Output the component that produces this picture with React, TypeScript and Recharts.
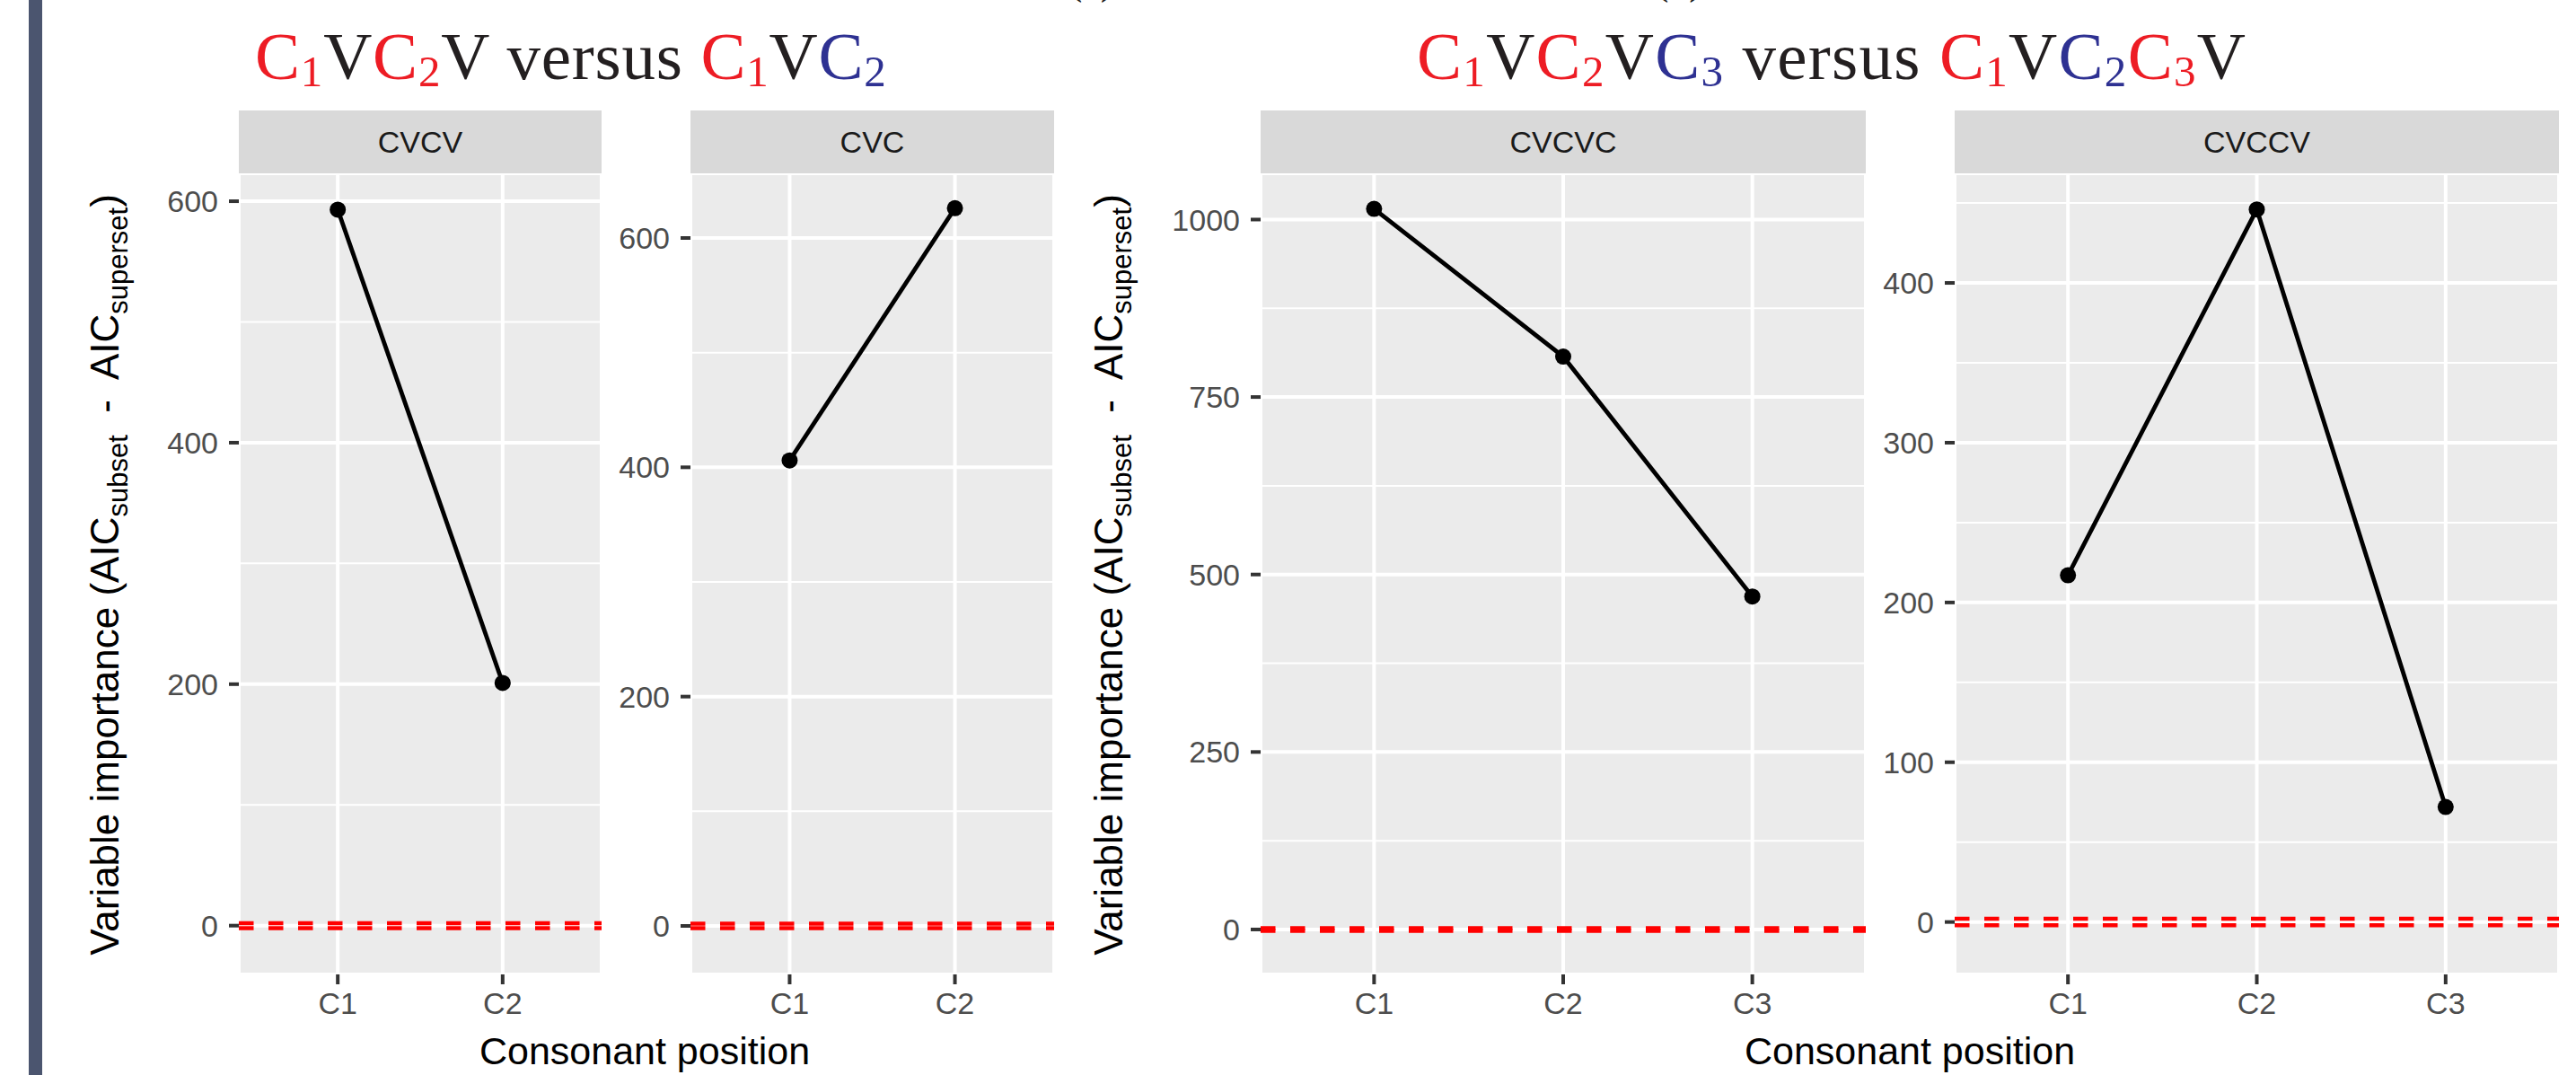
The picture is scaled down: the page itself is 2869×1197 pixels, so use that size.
import React from 'react';
import { LineChart, Line, XAxis, YAxis, CartesianGrid, ReferenceLine } from 'recharts';

const cvcvPositions = ['C1', 'C2'];
const cvcvImportance = [593, 201];
const cvcPositions = ['C1', 'C2'];
const cvcImportance = [406, 626];
const cvcvcPositions = ['C1', 'C2', 'C3'];
const cvcvcImportance = [1015, 807, 469];
const cvccvPositions = ['C1', 'C2', 'C3'];
const cvccvImportance = [217, 446, 72];

// y axis breaks
const cvcvTicks = [0, 200, 400, 600];
const cvcTicks = [0, 200, 400, 600];
const cvcvcTicks = [0, 250, 500, 750, 1000];
const cvccvTicks = [0, 100, 200, 300, 400];
const cvcvMinor = [100, 300, 500];
const cvcMinor = [100, 300, 500];
const cvcvcMinor = [125, 375, 625, 875];
const cvccvMinor = [50, 150, 250, 350, 450];

// +/- 2 AIC threshold
const thresholds = [2, -2];

const FONT = '"Liberation Sans", Arial, Helvetica, sans-serif';
const SERIF = '"Liberation Serif", "Times New Roman", serif';
const RED = '#ED1C24';
const BLUE = '#2E3192';
const INK = '#231F20';

const STRIP_TOP = 123;
const STRIP_H = 70;
const PLOT_TOP = 193;
const PLOT_H = 892;
const X_AXIS_H = 70;

type Part = { t: string; c: string; sub?: boolean };

const title1: Part[] = [
  { t: 'C', c: RED }, { t: '1', c: RED, sub: true }, { t: 'V', c: INK },
  { t: 'C', c: RED }, { t: '2', c: RED, sub: true }, { t: 'V', c: INK },
  { t: ' versus ', c: INK },
  { t: 'C', c: RED }, { t: '1', c: RED, sub: true }, { t: 'V', c: INK },
  { t: 'C', c: BLUE }, { t: '2', c: BLUE, sub: true },
];

const title2: Part[] = [
  { t: 'C', c: RED }, { t: '1', c: RED, sub: true }, { t: 'V', c: INK },
  { t: 'C', c: RED }, { t: '2', c: RED, sub: true }, { t: 'V', c: INK },
  { t: 'C', c: BLUE }, { t: '3', c: BLUE, sub: true },
  { t: ' versus ', c: INK },
  { t: 'C', c: RED }, { t: '1', c: RED, sub: true }, { t: 'V', c: INK },
  { t: 'C', c: BLUE }, { t: '2', c: BLUE, sub: true },
  { t: 'C', c: RED }, { t: '3', c: RED, sub: true }, { t: 'V', c: INK },
];

const Title = ({ parts, x, spacing }: { parts: Part[]; x: number; spacing: number }) => {
  let shifted = false;
  return (
    <text x={x} y={88} fontFamily={SERIF} fontSize={75} letterSpacing={spacing} style={{ whiteSpace: 'pre' }}>
      {parts.map((p, i) => {
        let dy = 0;
        if (p.sub && !shifted) { dy = 8; shifted = true; }
        else if (!p.sub && shifted) { dy = -8; shifted = false; }
        return (
          <tspan key={i} fill={p.c} dy={dy || undefined} fontSize={p.sub ? 49 : undefined}>{p.t}</tspan>
        );
      })}
    </text>
  );
};

const YTitle = ({ x }: { x: number }) => {
  const y = 640;
  return (
    <text x={x} y={y} transform={`rotate(-90 ${x} ${y})`} textAnchor="middle" fontFamily={FONT} fontSize={44} fill="#000" style={{ whiteSpace: 'pre' }}>
      Variable importance (AIC
      <tspan fontSize={31} dy={10}>subset</tspan>
      <tspan dy={-10}>{'  -  AIC'}</tspan>
      <tspan fontSize={31} dy={10}>superset</tspan>
      <tspan dy={-10}>)</tspan>
    </text>
  );
};

type PanelProps = {
  name: string;
  positions: string[];
  values: number[];
  ticks: number[];
  minor: number[];
  domain: [number, number];
  left: number;
  width: number;
  axisW: number;
};

const Panel = ({ name, positions, values, ticks, minor, domain, left, width, axisW }: PanelProps) => {
  const data = positions.map((p, i) => ({ x: i + 1, pos: p, value: values[i] }));
  const xTicks = positions.map((_, i) => i + 1);
  const minorGen = ({ yAxis, offset }: any) =>
    minor.map((v) =>
      yAxis && typeof yAxis.scale === 'function'
        ? yAxis.scale(v)
        : offset.top + ((domain[1] - v) / (domain[1] - domain[0])) * offset.height
    );
  return (
    <>
      <div
        style={{
          position: 'absolute', left, top: STRIP_TOP, width, height: STRIP_H,
          background: '#D9D9D9', color: '#1A1A1A', fontFamily: FONT, fontSize: 34,
          display: 'flex', alignItems: 'center', justifyContent: 'center',
        }}
      >
        {name}
      </div>
      <div style={{ position: 'absolute', left: left - axisW, top: PLOT_TOP }}>
        <LineChart width={axisW + width} height={PLOT_H + X_AXIS_H} data={data} margin={{ top: 0, right: 0, bottom: 0, left: 0 }}>
          <CartesianGrid fill="#EBEBEB" stroke="#FFFFFF" strokeWidth={2} vertical={false} horizontalCoordinatesGenerator={minorGen} />
          <CartesianGrid stroke="#FFFFFF" strokeWidth={4} />
          <XAxis
            type="number"
            dataKey="x"
            domain={[0.4, positions.length + 0.6]}
            ticks={xTicks}
            interval={0}
            allowDataOverflow
            tickFormatter={(v: number) => positions[v - 1]}
            height={X_AXIS_H}
            axisLine={false}
            tickSize={11}
            tickMargin={9}
            tickLine={{ stroke: '#333333', strokeWidth: 4 }}
            tick={{ fill: '#4D4D4D', fontSize: 34, fontFamily: FONT }}
          />
          <YAxis
            type="number"
            domain={domain}
            ticks={ticks}
            interval={0}
            allowDataOverflow
            width={axisW}
            axisLine={false}
            tickSize={11}
            tickMargin={12}
            tickLine={{ stroke: '#333333', strokeWidth: 4 }}
            tick={{ fill: '#4D4D4D', fontSize: 34, fontFamily: FONT }}
          />
          {thresholds.map((t) => (
            <ReferenceLine key={t} y={t} stroke="#FF0000" strokeWidth={4.5} strokeDasharray="16.5 16.5" />
          ))}
          <Line
            type="linear"
            dataKey="value"
            stroke="#000000"
            strokeWidth={4.8}
            dot={{ r: 9, fill: '#000000', stroke: '#000000', strokeWidth: 0 }}
            activeDot={false}
            isAnimationActive={false}
          />
        </LineChart>
      </div>
    </>
  );
};

const App: React.FC = () => {
  return (
    <div style={{ position: 'absolute', left: 0, top: 0, width: 2869, height: 1197, background: '#FFFFFF', overflow: 'hidden' }}>
      <div style={{ position: 'absolute', left: 32, top: 0, width: 15, height: 1197, background: '#4B556F' }} />
      <svg width={2869} height={1197} style={{ position: 'absolute', left: 0, top: 0 }}>
        {/* sub-figure captions cut off by the top edge */}
        <text x={1190} y={-7} fontFamily={SERIF} fontSize={46} fill={INK}>(a)</text>
        <text x={1843} y={-7} fontFamily={SERIF} fontSize={46} fill={INK}>(b)</text>
        <Title parts={title1} x={284} spacing={0.8} />
        <Title parts={title2} x={1578} spacing={1.3} />
        <YTitle x={132} />
        <YTitle x={1250} />
        <text x={718} y={1185} textAnchor="middle" fontFamily={FONT} fontSize={43} fill="#000">Consonant position</text>
        <text x={2127} y={1185} textAnchor="middle" fontFamily={FONT} fontSize={43} fill="#000">Consonant position</text>
      </svg>
      <Panel name="CVCV" positions={cvcvPositions} values={cvcvImportance} ticks={cvcvTicks} minor={cvcvMinor}
        domain={[-40.4, 623.1]} left={266} width={404} axisW={110} />
      <Panel name="CVC" positions={cvcPositions} values={cvcImportance} ticks={cvcTicks} minor={cvcMinor}
        domain={[-42.3, 656.4]} left={769} width={405} axisW={95} />
      <Panel name="CVCVC" positions={cvcvcPositions} values={cvcvcImportance} ticks={cvcvcTicks} minor={cvcvcMinor}
        domain={[-63.3, 1065.1]} left={1404} width={674} axisW={120} />
      <Panel name="CVCCV" positions={cvccvPositions} values={cvccvImportance} ticks={cvccvTicks} minor={cvccvMinor}
        domain={[-32.8, 468.6]} left={2177} width={673} axisW={95} />
    </div>
  );
};

export default App;
